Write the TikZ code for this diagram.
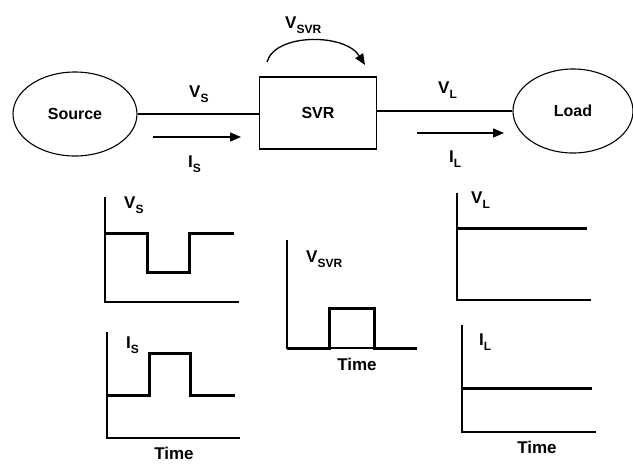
\documentclass[tikz,border=0pt]{standalone}
\usepackage{fontspec}
\setmainfont{Liberation Sans}
\usetikzlibrary{arrows.meta,shapes.geometric}
\newcommand\lblsub[2]{#1\raisebox{-5pt}{\fontsize{12}{13}\selectfont #2}}
\begin{document}
\begin{tikzpicture}[x=1pt,y=-1pt,
  lbl/.style={font=\bfseries\fontsize{17}{19}\selectfont, inner sep=0pt, anchor=base west},
  tlbl/.style={font=\bfseries\fontsize{17}{19}\selectfont, inner sep=0pt, anchor=base},
  blk/.style={draw, line width=1.1pt, font=\bfseries\fontsize{16}{18}\selectfont},
  conn/.style={line width=1.1pt},
  flow/.style={line width=1.3pt,-{Triangle[length=11pt,width=9pt]}},
  axis/.style={line width=1.4pt},
  wave/.style={line width=3pt, line join=miter}]
\useasboundingbox (0,0) rectangle (633,464);
% block diagram
\node[blk, ellipse, minimum width=124, minimum height=84] (src) at (75,114) {Source};
\node[blk, rectangle, minimum width=117, minimum height=72] (svr) at (318,113) {SVR};
\node[blk, ellipse, minimum width=120, minimum height=84] (load) at (573,111) {Load};
\draw[conn] (src.east) -- (svr.west |- src.east);
\draw[conn] (svr.east |- load.west) -- (load.west);
\coordinate (isa) at (153,137); \coordinate (isb) at (241,137);
\draw[flow] (isa) -- (isb);
\coordinate (ila) at (417,133); \coordinate (ilb) at (504,133);
\draw[flow] (ila) -- (ilb);
\coordinate (sva) at (267,62); \coordinate (svb) at (365,65);
\draw[flow] (sva) .. controls (275,33) and (345,33) .. (svb);
\node[lbl] (lvsvr) at (285,28) {\lblsub{V}{SVR}};
\node[lbl] (lvs) at (189,97) {\lblsub{V}{S}};
\node[lbl] (lis) at (188,167) {\lblsub{I}{S}};
\node[lbl] (lvl) at (438,93) {\lblsub{V}{L}};
\node[lbl] (lil) at (449,162) {\lblsub{I}{L}};
% V_S plot
\draw[axis] (105,197) |- (239,302);
\draw[wave] (105,233) -- (147,233) |- (189,272) |- (234,233);
\node[lbl] (pvs) at (124,208) {\lblsub{V}{S}};
% I_S plot
\draw[axis] (107,332) |- (240,438);
\draw[wave] (107,395) -- (149,395) |- (190,353) |- (235,395);
\node[lbl] (pis) at (126,348) {\lblsub{I}{S}};
\node[tlbl] (t1) at (174,459) {Time};
% V_SVR plot
\draw[axis] (287,240) |- (417,348);
\draw[wave] (287,348) -- (329,348) |- (374,308) |- (417,348);
\node[lbl] (pvsvr) at (306,262) {\lblsub{V}{SVR}};
\node[tlbl] (t2) at (357,370) {Time};
% V_L plot
\draw[axis] (457,193) |- (591,300);
\draw[wave] (457,228) -- (587,228);
\node[lbl] (pvl) at (471,203) {\lblsub{V}{L}};
% I_L plot
\draw[axis] (462,325) |- (596,432);
\draw[wave] (462,388) -- (592,388);
\node[lbl] (pil) at (479,345) {\lblsub{I}{L}};
\node[tlbl] (t3) at (537,453) {Time};
\end{tikzpicture}
\end{document}
